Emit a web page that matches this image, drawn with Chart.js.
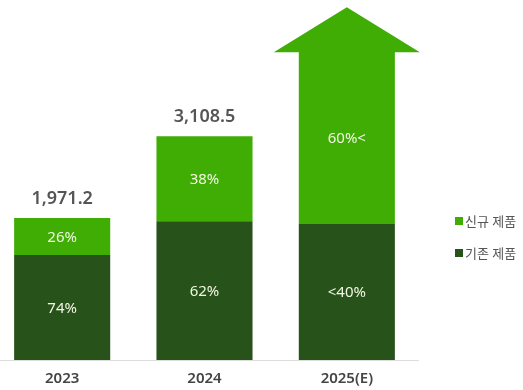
<!DOCTYPE html>
<html>
<head>
<meta charset="utf-8">
<script src="https://cdn.jsdelivr.net/npm/chart.js@4"></script>
<style>
  html, body { margin: 0; padding: 0; background: #fff; overflow: hidden; }
  #wrap { position: absolute; left: -10px; top: 0; width: 533px; height: 390px; }
</style>
</head>
<body>
<div id="wrap"><canvas id="salesChart"></canvas></div>
<script>
const years = ['2023', '2024', '2025(E)'];
const existingProducts = [1458.7, 1927.3, 1890];
const newProducts = [512.5, 1181.2, 2390];
const arrowTip = [null, null, 4900];
const totalLabels = ['1,971.2', '3,108.5', null];
const existingPct = ['74%', '62%', '<40%'];
const newPct = ['26%', '38%', '60%<'];

const DARK = '#27521a';
const LIGHT = '#40ad04';
const FONT = "'Noto Sans', 'Noto Sans CJK KR', sans-serif";

const labelPlugin = {
    id: 'barLabels',
    afterDatasetsDraw(chart) {
        const ctx = chart.ctx;
        const y = chart.scales.y;
        const bottom = chart.getDatasetMeta(0).data;
        const top = chart.getDatasetMeta(1).data;

        // arrow head on top of the estimate bar
        top.forEach((bar, i) => {
            if (arrowTip[i] == null) return;
            const half = bar.width * 0.76;
            ctx.save();
            ctx.fillStyle = LIGHT;
            ctx.beginPath();
            ctx.moveTo(bar.x - half, bar.y + 0.5);
            ctx.lineTo(bar.x + half, bar.y + 0.5);
            ctx.lineTo(bar.x, y.getPixelForValue(arrowTip[i]));
            ctx.closePath();
            ctx.fill();
            ctx.restore();
        });

        ctx.save();
        ctx.textAlign = 'center';
        ctx.textBaseline = 'middle';
        ctx.fillStyle = '#f1f6e3';
        ctx.font = '15px ' + FONT;
        bottom.forEach((bar, i) => {
            ctx.fillText(existingPct[i], bar.x, (bar.y + bar.base) / 2 + 1);
        });
        top.forEach((bar, i) => {
            ctx.fillText(newPct[i], bar.x, (bar.y + bar.base) / 2 + 1);
        });
        ctx.fillStyle = '#555';
        ctx.font = '600 18px ' + FONT;
        top.forEach((bar, i) => {
            if (totalLabels[i]) ctx.fillText(totalLabels[i], bar.x, bar.y - 19);
        });

        // legend
        const items = [chart.data.datasets[1], chart.data.datasets[0]];
        ctx.textAlign = 'left';
        ctx.font = '13px ' + FONT;
        items.forEach((ds, i) => {
            const ly = 221 + i * 32;
            ctx.fillStyle = ds.backgroundColor;
            ctx.fillRect(465, ly - 4, 8, 8);
            ctx.fillStyle = '#555';
            ctx.fillText(ds.label, 475, ly + 1);
        });
        ctx.restore();
    }
};

new Chart(document.getElementById('salesChart'), {
    type: 'bar',
    data: {
        labels: years,
        datasets: [
            { label: '기존 제품', data: existingProducts, backgroundColor: DARK },
            { label: '신규 제품', data: newProducts, backgroundColor: LIGHT }
        ]
    },
    options: {
        responsive: true,
        maintainAspectRatio: false,
        animation: false,
        layout: { padding: { left: 1, right: 105, top: 0, bottom: 3 } },
        datasets: { bar: { barPercentage: 0.675, categoryPercentage: 1 } },
        plugins: { legend: { display: false }, tooltip: { enabled: false } },
        scales: {
            x: {
                stacked: true,
                grid: { display: false, drawTicks: false },
                border: { display: true, color: '#dddddd', width: 1 },
                ticks: { color: '#444', padding: 10, font: { family: FONT, size: 15, weight: '600' } },
                afterFit(scale) { scale.height = 27; }
            },
            y: { stacked: true, display: false, min: 0, max: 5000 }
        }
    },
    plugins: [labelPlugin]
});
</script>
</body>
</html>
